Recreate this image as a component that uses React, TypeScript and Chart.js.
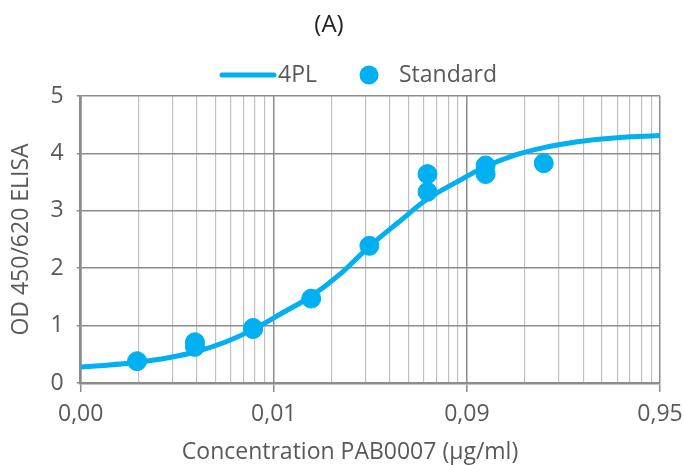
import React, { useEffect, useRef } from 'react';
import { Chart, registerables } from 'chart.js';

Chart.register(...registerables);

// ---- data ----
const curveConc = [0.00095, 0.0013, 0.00186, 0.0027, 0.0037, 0.0053, 0.0074, 0.0105, 0.0148, 0.021, 0.0297, 0.042, 0.059, 0.084, 0.119, 0.168, 0.2375, 0.336, 0.475, 0.67, 0.95];
const curveOD = [0.28, 0.31, 0.36, 0.44, 0.54, 0.71, 0.93, 1.22, 1.51, 1.90, 2.38, 2.80, 3.20, 3.50, 3.77, 3.97, 4.10, 4.19, 4.25, 4.29, 4.31];

const stdConc = [0.00186, 0.00371, 0.00371, 0.00742, 0.00742, 0.01484, 0.02969, 0.05938, 0.05938, 0.11875, 0.11875, 0.2375];
const stdOD = [0.38, 0.71, 0.63, 0.96, 0.94, 1.47, 2.39, 3.64, 3.33, 3.79, 3.64, 3.83];

const xMajorTicks = [0.00095, 0.0095, 0.095, 0.95];
const xTickLabels = ['0,00', '0,01', '0,09', '0,95'];
const xMinorMultipliers = [2, 3, 4, 5, 6, 7, 8, 9];
const yTicks = [0, 1, 2, 3, 4, 5];

const chartTitle = '(A)';
const xTitle = 'Concentration PAB0007 (µg/ml)';
const yTitle = 'OD 450/620 ELISA';
const seriesNames = ['4PL', 'Standard'];

// ---- styles ----
const BLUE = '#00B0F0';
const TEXT = '#595959';
const MAJOR = '#8c8c8c';
const MINOR = '#c0c0c0';
const FONT = "'Open Sans', sans-serif";

const isMajor = (v: number) => xMajorTicks.some((m) => Math.abs(v / m - 1) < 1e-6);

const decorPlugin = {
  id: 'decor',
  afterDraw(chart: any) {
    const ctx = chart.ctx;
    ctx.save();
    // title
    ctx.fillStyle = '#222';
    ctx.font = `24px ${FONT}`;
    ctx.textAlign = 'center';
    ctx.textBaseline = 'middle';
    ctx.fillText(chartTitle, 329, 25);
    // legend
    ctx.strokeStyle = BLUE;
    ctx.lineWidth = 5;
    ctx.lineCap = 'round';
    ctx.beginPath();
    ctx.moveTo(222, 75);
    ctx.lineTo(274, 75);
    ctx.stroke();
    ctx.fillStyle = TEXT;
    ctx.font = `23px ${FONT}`;
    ctx.textAlign = 'left';
    ctx.fillText(seriesNames[0], 278, 75);
    ctx.fillStyle = BLUE;
    ctx.beginPath();
    ctx.arc(369, 75, 9.5, 0, Math.PI * 2);
    ctx.fill();
    ctx.fillStyle = TEXT;
    ctx.fillText(seriesNames[1], 399, 75);
    // x axis title
    ctx.textAlign = 'center';
    ctx.fillText(xTitle, 350, 452);
    ctx.restore();
  },
};

export default function App() {
  const ref = useRef<HTMLCanvasElement | null>(null);

  useEffect(() => {
    if (!ref.current) return;
    const curve = curveConc.map((x, i) => ({ x, y: curveOD[i] }));
    const std = stdConc.map((x, i) => ({ x, y: stdOD[i] }));
    const allTicks: number[] = [];
    xMajorTicks.forEach((m, i) => {
      allTicks.push(m);
      if (i < xMajorTicks.length - 1) xMinorMultipliers.forEach((k) => allTicks.push(m * k));
    });

    const chart = new Chart(ref.current, {
      type: 'scatter',
      data: {
        datasets: [
          {
            label: seriesNames[1],
            data: std,
            backgroundColor: BLUE,
            borderColor: BLUE,
            pointRadius: 9.5,
            pointHoverRadius: 9.5,
            showLine: false,
            order: 1,
          },
          {
            label: seriesNames[0],
            data: curve,
            type: 'line',
            borderColor: BLUE,
            backgroundColor: BLUE,
            borderWidth: 5,
            pointRadius: 0,
            cubicInterpolationMode: 'monotone',
            fill: false,
            showLine: true,
            order: 2,
          } as any,
        ],
      },
      options: {
        responsive: false,
        animation: false,
        layout: { padding: { top: 96, right: 24, bottom: 0, left: 0 } },
        plugins: {
          legend: { display: false },
          title: { display: false },
          tooltip: { enabled: false },
        },
        scales: {
          x: {
            type: 'logarithmic',
            position: 'bottom',
            min: xMajorTicks[0],
            max: xMajorTicks[xMajorTicks.length - 1],
            afterBuildTicks: (s: any) => {
              s.ticks = allTicks.map((v) => ({ value: v, major: isMajor(v) }));
            },
            afterFit: (s: any) => {
              s.height = 82;
              s.paddingLeft = 0;
              s.paddingRight = 0;
            },
            ticks: {
              autoSkip: false,
              maxRotation: 0,
              minRotation: 0,
              padding: 9,
              color: TEXT,
              font: { family: FONT, size: 23 },
              callback: (v: any) => {
                const idx = xMajorTicks.findIndex((m) => Math.abs(Number(v) / m - 1) < 1e-6);
                return idx >= 0 ? xTickLabels[idx] : '';
              },
            },
            grid: {
              color: (c: any) => (c.tick && isMajor(c.tick.value) ? MAJOR : MINOR),
              lineWidth: (c: any) => (c.tick && isMajor(c.tick.value) ? 1.5 : 1.2),
              tickLength: 9,
              tickColor: (c: any) => (c.tick && isMajor(c.tick.value) ? MAJOR : 'rgba(0,0,0,0)'),
            },
            border: { color: MAJOR, width: 2.5 },
          },
          y: {
            type: 'linear',
            min: 0,
            max: 5,
            afterBuildTicks: (s: any) => {
              s.ticks = yTicks.map((v) => ({ value: v }));
            },
            afterFit: (s: any) => {
              s.width = 80.7;
            },
            ticks: {
              padding: 13,
              color: TEXT,
              font: { family: FONT, size: 23 },
            },
            grid: {
              color: MAJOR,
              lineWidth: 1.5,
              tickLength: 4,
            },
            border: { color: MAJOR, width: 2.5 },
            title: {
              display: true,
              text: yTitle,
              color: TEXT,
              font: { family: FONT, size: 23 },
              padding: { top: 8, bottom: 0 },
            },
          },
        },
      },
      plugins: [decorPlugin],
    });
    return () => chart.destroy();
  }, []);

  return (
    <div style={{ position: 'fixed', left: 0, top: 0, width: 684, height: 465, background: '#fff' }}>
      <canvas ref={ref} width={684} height={465} />
    </div>
  );
}
